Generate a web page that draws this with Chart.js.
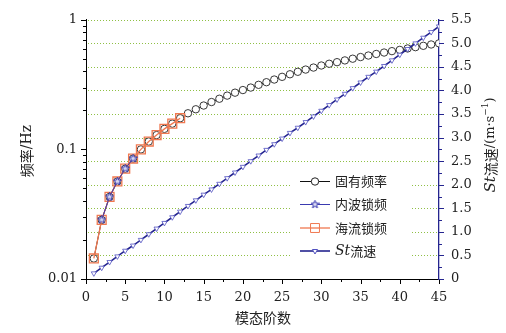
<!DOCTYPE html>
<html>
<head>
<meta charset="utf-8">
<script src="https://cdn.jsdelivr.net/npm/chart.js@4"></script>
<style>
html,body{margin:0;padding:0;background:#fff;}
canvas{display:block;}
</style>
</head>
<body>
<canvas id="c" width="506" height="333"></canvas>
<script>
// data
const modes = [1,2,3,4,5,6,7,8,9,10,11,12,13,14,15,16,17,18,19,20,21,22,23,24,25,26,27,28,29,30,31,32,33,34,35,36,37,38,39,40,41,42,43,44,45];
const naturalFreq = [0.0144,0.0286,0.043,0.0566,0.071,0.085,0.100,0.115,0.129,0.144,0.158,0.174,0.190,0.204,0.218,0.232,0.246,0.260,0.274,0.287,0.300,0.315,0.330,0.346,0.363,0.380,0.397,0.413,0.428,0.444,0.458,0.471,0.486,0.501,0.516,0.530,0.545,0.559,0.573,0.586,0.601,0.615,0.630,0.645,0.658];
const waveModes = [2,3,4,5,6];
const waveFreq = [0.0286,0.043,0.0566,0.071,0.085];
const currentModes = [1,2,3,4,5,6,7,8,9,10,11,12];
const currentFreq = [0.0144,0.0286,0.043,0.0566,0.071,0.085,0.100,0.115,0.129,0.144,0.158,0.174];
const stSpeed = [0.12,0.24,0.36,0.48,0.60,0.71,0.83,0.95,1.07,1.19,1.31,1.43,1.55,1.67,1.79,1.90,2.02,2.14,2.26,2.38,2.50,2.62,2.74,2.86,2.98,3.10,3.21,3.33,3.45,3.57,3.69,3.81,3.93,4.05,4.17,4.29,4.40,4.52,4.64,4.76,4.88,5.00,5.12,5.24,5.36];
const xTicks = [0,5,10,15,20,25,30,35,40,45];
const freqTicks = [0.01,0.1,1];
const speedTicks = [0,0.5,1,1.5,2,2.5,3,3.5,4,4.5,5,5.5];

const NUM = '"DejaVu Serif", serif';
const CJK = '"Noto Sans CJK SC", sans-serif';
const NAVY = '#25258f';

function pts(xs, ys) {
  return xs.map((x, i) => ({x: x, y: ys[i]}));
}

function starImage(size, color) {
  let c = document.createElement("canvas");
  c.width = size; c.height = size;
  let g = c.getContext("2d");
  g.beginPath();
  for (let i = 0; i < 10; i++) {
    let r = i % 2 ? size * 0.2 : size * 0.47;
    let a = -Math.PI / 2 + i * Math.PI / 5;
    g.lineTo(size / 2 + r * Math.cos(a), size / 2 + r * Math.sin(a));
  }
  g.closePath();
  g.fillStyle = "#d8d8f0";
  g.fill();
  g.strokeStyle = color;
  g.lineWidth = 1;
  g.stroke();
  return c;
}
const star = starImage(9, "#3a3ab0");

// dotted grid, ticks, white legend box
const decor = {
  id: "decor",
  beforeDatasetsDraw(chart) {
    const ctx = chart.ctx, a = chart.chartArea;
    const xs = chart.scales.x, yl = chart.scales.y, yr = chart.scales.y2;
    ctx.save();
    ctx.strokeStyle = "#8fc045";
    ctx.lineWidth = 1;
    ctx.setLineDash([1, 2]);
    speedTicks.forEach(v => {
      if (v === 0) return;
      let y = Math.round(yr.getPixelForValue(v)) + 0.5;
      ctx.beginPath();
      ctx.moveTo(a.left + 2, y);
      ctx.lineTo(a.right - 2, y);
      ctx.stroke();
    });
    ctx.setLineDash([]);
    // legend background
    ctx.fillStyle = "#fff";
    ctx.fillRect(290, 169, 120, 94);

    // x ticks
    ctx.strokeStyle = "#000";
    for (let v = 0; v <= 45; v += 2.5) {
      let x = Math.round(xs.getPixelForValue(v)) + 0.5;
      let len = v % 5 === 0 ? 5 : 3;
      ctx.beginPath();
      ctx.moveTo(x, a.bottom);
      ctx.lineTo(x, a.bottom + len);
      ctx.stroke();
    }
    // left log ticks
    [0.01, 0.1].forEach(d => {
      for (let k = 1; k <= 9; k++) {
        let y = Math.round(yl.getPixelForValue(d * k)) + 0.5;
        let len = k === 1 ? 5 : 3;
        ctx.beginPath();
        ctx.moveTo(a.left, y);
        ctx.lineTo(a.left - len, y);
        ctx.stroke();
      }
    });
    let yTop = Math.round(yl.getPixelForValue(1)) + 0.5;
    ctx.beginPath();
    ctx.moveTo(a.left, yTop);
    ctx.lineTo(a.left - 5, yTop);
    ctx.stroke();
    // right ticks
    ctx.strokeStyle = NAVY;
    for (let v = 0; v <= 5.5001; v += 0.25) {
      let y = Math.round(yr.getPixelForValue(v)) + 0.5;
      let len = Math.abs(v * 2 - Math.round(v * 2)) < 0.01 ? 5 : 3;
      ctx.beginPath();
      ctx.moveTo(a.right, y);
      ctx.lineTo(a.right + len, y);
      ctx.stroke();
    }
    ctx.restore();
  },
  afterDraw(chart) {
    const ctx = chart.ctx;
    ctx.save();
    ctx.fillStyle = "#222";
    ctx.textBaseline = "middle";

    // bottom title
    ctx.textAlign = "center";
    ctx.font = "14px " + CJK;
    ctx.fillText("模态阶数", 263, 318);

    // left title
    ctx.save();
    ctx.translate(27, 151);
    ctx.rotate(-Math.PI / 2);
    drawRuns(ctx, [["频率", "14px " + CJK, 0], ["/Hz", "14px " + NUM, 0]]);
    ctx.restore();

    // right title
    ctx.save();
    ctx.translate(491, 145);
    ctx.rotate(-Math.PI / 2);
    drawRuns(ctx, [["St", "italic 15px " + NUM, 0], ["流速", "14px " + CJK, 0],
      ["/(m·s", "13px " + NUM, 0], ["−1", "9px " + NUM, -5], [")", "13px " + NUM, 0]]);
    ctx.restore();

    // legend
    const rows = [181.5, 204.5, 228, 251];
    const items = chart.data.datasets.slice().sort((p, q) => p.legendIndex - q.legendIndex);
    items.forEach((ds, i) => {
      let y = rows[i];
      ctx.strokeStyle = ds.borderColor;
      ctx.lineWidth = ds.borderWidth;
      ctx.beginPath();
      ctx.moveTo(300, y);
      ctx.lineTo(330, y);
      ctx.stroke();
      ctx.fillStyle = ds.pointBackgroundColor;
      ctx.strokeStyle = ds.pointBorderColor;
      ctx.lineWidth = 1;
      Chart.helpers.drawPoint(ctx, {
        pointStyle: ds.pointStyle, radius: ds.pointRadius,
        rotation: ds.pointRotation || 0, borderWidth: 1
      }, 315, y);
      ctx.fillStyle = "#222";
      ctx.textAlign = "left";
      if (ds.label === "St流速") {
        ctx.save();
        ctx.translate(335, y);
        drawRuns(ctx, [["St", "italic 14px " + NUM, 0], ["流速", "13px " + CJK, 0]], true);
        ctx.restore();
      } else {
        ctx.font = "13px " + CJK;
        ctx.fillText(ds.label, 335, y);
      }
    });
    ctx.restore();
  }
};

// text made of several font runs, centred on the origin unless leftAlign
function drawRuns(ctx, runs, leftAlign) {
  let total = 0;
  runs.forEach(r => { ctx.font = r[1]; total += ctx.measureText(r[0]).width; });
  let x = leftAlign ? 0 : -total / 2;
  ctx.textAlign = "left";
  ctx.textBaseline = "middle";
  runs.forEach(r => {
    ctx.font = r[1];
    ctx.fillText(r[0], x, r[2]);
    x += ctx.measureText(r[0]).width;
  });
}

const chart = new Chart(document.getElementById("c"), {
  type: "line",
  data: {
    datasets: [
      {
        label: "St流速", legendIndex: 3, yAxisID: "y2", order: 0,
        data: pts(modes, stSpeed),
        borderColor: NAVY, borderWidth: 1.6,
        pointStyle: "triangle", pointRotation: 180, pointRadius: 3,
        pointBorderColor: "#5050c0", pointBackgroundColor: "#fff", pointBorderWidth: 0.8
      },
      {
        label: "内波锁频", legendIndex: 1, yAxisID: "y", order: 1,
        data: pts(waveModes, waveFreq),
        borderColor: "#3a3ab0", borderWidth: 1,
        pointStyle: star, pointRadius: 4.5,
        pointBorderColor: "#3a3ab0", pointBackgroundColor: "#d8d8f0"
      },
      {
        label: "海流锁频", legendIndex: 2, yAxisID: "y", order: 2,
        data: pts(currentModes, currentFreq),
        borderColor: "#f07850", borderWidth: 1.3,
        pointStyle: "rect", pointRadius: 6.3,
        pointBorderColor: "#f07850", pointBackgroundColor: "rgba(255,255,255,0)", pointBorderWidth: 1.3
      },
      {
        label: "固有频率", legendIndex: 0, yAxisID: "y", order: 3,
        data: pts(modes, naturalFreq),
        borderColor: "#111", borderWidth: 1,
        pointStyle: "circle", pointRadius: 3.7,
        pointBorderColor: "#222", pointBackgroundColor: "#fff", pointBorderWidth: 0.9
      }
    ]
  },
  options: {
    responsive: false,
    devicePixelRatio: 1,
    animation: false,
    events: [],
    layout: {padding: {top: 16, left: 0, right: 0, bottom: 0}},
    plugins: {legend: {display: false}, tooltip: {enabled: false}},
    scales: {
      x: {
        type: "linear", min: 0, max: 45,
        afterBuildTicks: s => { s.ticks = xTicks.map(v => ({value: v})); },
        afterFit: s => { s.height = 54; },
        grid: {display: false, drawTicks: false},
        border: {display: true, color: "#000", width: 1},
        ticks: {padding: 11, color: "#222", font: {family: NUM, size: 13}}
      },
      y: {
        type: "logarithmic", position: "left", min: 0.01, max: 1,
        afterBuildTicks: s => { s.ticks = freqTicks.map(v => ({value: v})); },
        afterFit: s => { s.width = 86; },
        grid: {display: false, drawTicks: false},
        border: {display: true, color: "#000", width: 1},
        ticks: {padding: 9, color: "#222", font: {family: NUM, size: 13}, callback: v => String(v)}
      },
      y2: {
        type: "linear", position: "right", min: 0, max: 5.5,
        afterBuildTicks: s => { s.ticks = speedTicks.map(v => ({value: v})); },
        afterFit: s => { s.width = 67; },
        grid: {display: false, drawTicks: false},
        border: {display: true, color: NAVY, width: 1.3},
        ticks: {padding: 12, color: "#222", font: {family: NUM, size: 13},
          callback: v => v === 0 ? "0" : v.toFixed(1)}
      }
    }
  },
  plugins: [decor]
});
</script>
</body>
</html>
